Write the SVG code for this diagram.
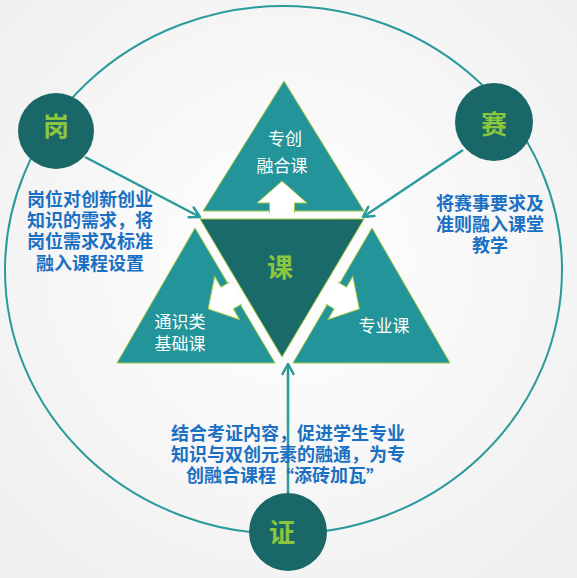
<svg xmlns="http://www.w3.org/2000/svg" width="577" height="578" viewBox="0 0 577 578">
<defs>
<radialGradient id="bg" cx="50%" cy="45%" r="70%">
<stop offset="0" stop-color="#ffffff"/>
<stop offset="1" stop-color="#efefef"/>
</radialGradient>
<marker id="ah" viewBox="0 0 14 14" refX="12" refY="7" markerWidth="14" markerHeight="14" markerUnits="userSpaceOnUse" orient="auto">
<path d="M2,1.5 L12,7 L2,12.5" fill="none" stroke="#2a9a9a" stroke-width="2.5" stroke-linecap="round" stroke-linejoin="round"/>
</marker>
<path id="arr" d="M12.5,2 L12.5,-8 L25,-8 L0,-30 L-25,-8 L-12.5,-8 L-12.5,2"/>
</defs>
<style>
.tri{fill:#23949a;stroke:#a3c93e;stroke-width:1}
.ctr{fill:#1b6a6a;stroke:#a3c93e;stroke-width:1}
.wa{fill:#ffffff;stroke:#a3c93e;stroke-width:1}
.tl{font-family:"Liberation Sans","Noto Sans CJK SC",sans-serif;font-size:17px;fill:#ffffff;text-anchor:middle;dominant-baseline:central}
.nd{fill:#1a6767}
.nl{font-family:"Liberation Sans","Noto Sans CJK SC",sans-serif;font-size:26px;font-weight:bold;fill:#8cc63e;text-anchor:middle;dominant-baseline:central}
.bt{font-family:"Liberation Sans","Noto Sans CJK SC",sans-serif;font-size:18px;font-weight:bold;fill:#1a70c2;text-anchor:middle;dominant-baseline:central}
.q{font-family:"Noto Sans CJK SC",sans-serif}
.cn{fill:none;stroke:#2a9a9a;stroke-width:2.5;marker-end:url(#ah)}
</style>
<rect width="577" height="578" fill="url(#bg)"/>
<ellipse cx="283.5" cy="270" rx="278.5" ry="264" fill="none" stroke="#2a9a9a" stroke-width="2"/>

<g id="connectors">
<line class="cn" x1="85" y1="157" x2="200" y2="217"/>
<line class="cn" x1="463" y1="150" x2="363" y2="217"/>
<line class="cn" x1="288" y1="493" x2="288" y2="364"/>
</g>

<g id="top-triangle">
<polygon class="tri" points="284,81 364,211 203,211"/>
<use href="#arr" class="wa" transform="translate(282,211)"/>
<text class="tl" x="285" y="139">专创</text>
<text class="tl" x="282" y="166">融合课</text>
</g>
<g id="left-triangle">
<polygon class="tri" points="195,228 275,363 117,363"/>
<use href="#arr" class="wa" transform="translate(234.1,294) rotate(-120)"/>
<text class="tl" x="180" y="322">通识类</text>
<text class="tl" x="180" y="344">基础课</text>
</g>
<g id="right-triangle">
<polygon class="tri" points="372,228 450,363 293,363"/>
<use href="#arr" class="wa" transform="translate(333.4,294) rotate(120)"/>
<text class="tl" x="384" y="326">专业课</text>
</g>
<g id="center-triangle">
<polygon class="ctr" points="200,219 364,219 282,357"/>
<text class="nl" x="280" y="268" font-size="28">课</text>
</g>

<g id="node-gang">
<circle class="nd" cx="56" cy="131" r="38"/>
<text class="nl" x="56" y="127">岗</text>
</g>
<g id="node-sai">
<circle class="nd" cx="494" cy="122" r="39"/>
<text class="nl" x="494" y="125">赛</text>
</g>
<g id="node-zheng">
<circle class="nd" cx="288" cy="532" r="39"/>
<text class="nl" x="282" y="533">证</text>
</g>

<g id="text-gang">
<text class="bt" x="90" y="200">岗位对创新创业</text>
<text class="bt" x="90" y="221">知识的需求，将</text>
<text class="bt" x="90" y="242">岗位需求及标准</text>
<text class="bt" x="90" y="264">融入课程设置</text>
</g>
<g id="text-sai">
<text class="bt" x="490" y="204">将赛事要求及</text>
<text class="bt" x="490" y="225">准则融入课堂</text>
<text class="bt" x="490" y="246">教学</text>
</g>
<g id="text-zheng">
<text class="bt" x="288" y="434">结合考证内容，促进学生专业</text>
<text class="bt" x="288" y="455">知识与双创元素的融通，为专</text>
<text class="bt" x="285" y="476">创融合课程<tspan class="q">“</tspan>添砖加瓦<tspan class="q">”</tspan></text>
</g>
</svg>
